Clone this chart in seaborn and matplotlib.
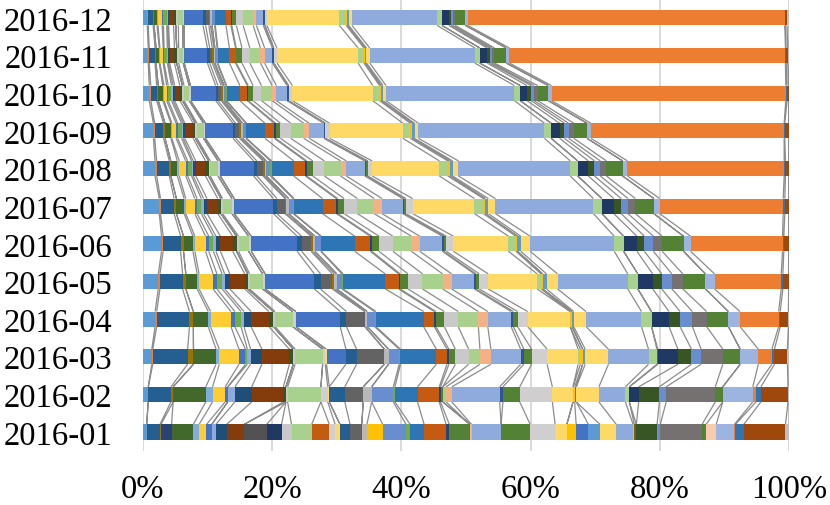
import numpy as np
import pandas as pd
import matplotlib
matplotlib.use("Agg")
import matplotlib.pyplot as plt
import seaborn as sns

# ---------------- data ----------------
months = ["2016-01", "2016-02", "2016-03", "2016-04", "2016-05", "2016-06",
          "2016-07", "2016-08", "2016-09", "2016-10", "2016-11", "2016-12"]

series_colors = [
    "#5B9BD5", "#ED7D31", "#255E91", "#997300", "#264478", "#43682B", "#7CAFDD", "#FFCD33", "#4472C4", "#70AD47",
    "#8FAADC", "#1F4E79", "#843C0C", "#375623", "#525252", "#203864", "#C9C9C9", "#A9D18E", "#C55A11", "#D0CECE",
    "#FFD966", "#4472C4", "#255E91", "#636363", "#997300", "#B7B7B7", "#FFC000", "#698ED0", "#70AD47", "#2E75B6",
    "#C55A11", "#264478", "#548235", "#C9C9C9", "#A9D18E", "#F4B183", "#8FAADC", "#2F5597", "#548235", "#D0CECE",
    "#FFD966", "#A9D18E", "#FFC000", "#4472C4", "#5B9BD5", "#FFD966", "#8FAADC", "#A9D18E", "#7F6000", "#203864",
    "#375623", "#698ED0", "#767171", "#548235", "#F8CBAD", "#9DB4E0", "#ED7D31", "#2E75B6", "#9E480E", "#BFBFBF",
]

v_2016_01 = [0.6, 0, 2.05, 0.15, 1.65, 3.35, 0.9, 1.15, 0.8, 0,
             0.65, 1.65, 2.7, 0, 3.5, 2.3, 1.55, 3.1, 2.75, 0.9,
             0.75, 0, 1.55, 1.8, 0, 0.8, 2.45, 3.6, 0.65, 2.15,
             3.4, 0.5, 3.2, 0, 0, 0.25, 4.55, 0, 4.5, 3.85,
             1.8, 0, 1.45, 1.9, 1.8, 2.5, 2.6, 0.2, 0.3, 0,
             3.2, 0.5, 6.45, 0.6, 1.6, 2.8, 0.15, 1.3, 6.45, 0.6]
v_2016_02 = [0.85, 0, 3.5, 0.35, 0, 5.05, 1.05, 1.95, 0.4, 0,
             1.1, 2.6, 4.9, 0.4, 0, 0, 0.25, 5.15, 0, 1.05,
             0.25, 0, 2.4, 2.85, 0, 1.3, 0, 3.35, 0.25, 3.5,
             3.35, 0.2, 0.35, 0, 0.5, 0.9, 7.4, 0.5, 2.6, 5.05,
             3.2, 0, 0.25, 0.25, 0, 3.5, 4.1, 0.6, 0, 1.45,
             3.2, 1.05, 7.6, 1.15, 0, 4.65, 0.5, 0.75, 4.2, 0.2]
v_2016_03 = [1.4, 0.15, 5.4, 0.9, 0, 3.5, 0.5, 3.05, 1.0, 0.3,
             0.5, 1.75, 4.25, 0.6, 0, 0, 0.3, 4.25, 0, 0.4,
             0.2, 3.0, 1.65, 4.3, 0, 0.65, 0, 1.65, 0.2, 5.55,
             1.65, 0.3, 1.0, 2.05, 1.75, 1.7, 4.6, 0.5, 1.2, 2.4,
             4.8, 0.35, 0.35, 0, 0.4, 3.6, 6.2, 1.3, 0.15, 3.1,
             2.1, 1.5, 3.35, 2.7, 0, 2.8, 2.1, 0.4, 2.0, 0.3]
v_2016_04 = [1.9, 0.25, 5.05, 0.6, 0, 2.3, 0.35, 3.15, 0.6, 0.95,
             0.45, 1.1, 2.75, 0.7, 0, 0, 0.25, 2.7, 0, 0.5,
             0, 6.85, 0.95, 2.85, 0, 0.35, 0, 1.15, 0.2, 7.35,
             1.65, 0.25, 1.3, 2.15, 3.1, 1.45, 3.6, 0.35, 0.65, 1.55,
             6.55, 0, 0.3, 0, 0.25, 1.9, 8.55, 1.55, 0, 2.7,
             1.7, 1.9, 2.2, 3.35, 0, 1.8, 5.95, 0.25, 1.25, 0.15]
v_2016_05 = [2.4, 0.25, 3.5, 0.5, 0, 1.75, 0.3, 2.15, 0.6, 0.8,
             0.4, 0.8, 2.3, 0.45, 0, 0, 0.3, 2.0, 0, 0.4,
             0, 7.6, 0.95, 1.8, 0.35, 0.35, 0, 0.8, 0.2, 6.5,
             2.05, 0.25, 1.2, 2.25, 3.1, 1.4, 3.5, 0.25, 0.5, 1.4,
             7.55, 0.6, 0.25, 0, 0.6, 1.7, 10.85, 1.55, 0, 2.3,
             1.4, 1.55, 1.7, 3.5, 0, 1.4, 10.3, 0.25, 0.9, 0.1]
v_2016_06 = [2.9, 0.25, 2.7, 0.45, 0, 1.45, 0.3, 1.65, 0.5, 0.7,
             0.4, 0.7, 1.9, 0.6, 0, 0, 0.3, 1.55, 0, 0.4,
             0, 7.1, 0.7, 1.45, 0.25, 0.35, 0, 0.9, 0.1, 5.15,
             2.4, 0.25, 1.1, 2.15, 2.85, 1.3, 3.5, 0.2, 0.4, 1.1,
             8.5, 1.15, 0.25, 0, 0.5, 1.45, 13.0, 1.45, 0, 2.05,
             1.15, 1.4, 1.35, 3.3, 0, 1.1, 14.2, 0.2, 0.75, 0.1]
v_2016_07 = [2.55, 0.2, 2.1, 0.35, 0, 1.2, 0.25, 1.4, 0.35, 0.65,
             0.35, 0.55, 1.65, 0.5, 0, 0, 0.25, 1.45, 0, 0.35,
             0, 6.05, 0.55, 1.25, 0.15, 0.4, 0, 0.7, 0.15, 4.4,
             2.15, 0.2, 1.0, 2.05, 2.6, 1.2, 3.2, 0.25, 0.25, 1.05,
             9.55, 1.4, 0.25, 0, 0.5, 1.1, 15.15, 1.3, 0, 1.85,
             1.15, 1.05, 1.15, 2.85, 0, 0.9, 19.1, 0.25, 0.6, 0.1]
v_2016_08 = [1.9, 0.25, 1.95, 0.25, 0, 1.0, 0.3, 1.0, 0.3, 0.6,
             0.25, 0.4, 1.5, 0.5, 0, 0, 0.25, 1.2, 0, 0.35,
             0, 5.15, 0.5, 0.95, 0.25, 0.25, 0, 0.65, 0.2, 3.4,
             1.8, 0.2, 0.95, 1.8, 2.5, 0.9, 2.85, 0.25, 0.25, 0.65,
             10.4, 1.3, 0.35, 0, 0.4, 0.9, 17.3, 1.15, 0, 1.65,
             0.95, 0.9, 0.95, 2.5, 0, 0.75, 24.25, 0.2, 0.5, 0.1]
v_2016_09 = [1.65, 0.2, 1.35, 0.25, 0, 0.9, 0.15, 0.65, 0.25, 0.6,
             0.25, 0.25, 1.3, 0.35, 0, 0, 0.25, 1.0, 0, 0.3,
             0, 4.25, 0.4, 0.6, 0.25, 0.25, 0, 0.5, 0.1, 2.85,
             1.45, 0.2, 0.75, 1.6, 2.0, 0.85, 2.25, 0.25, 0, 0.65,
             11.35, 1.15, 0.3, 0, 0.35, 0.6, 19.5, 1.05, 0, 1.3,
             0.75, 0.65, 0.8, 2.05, 0, 0.6, 29.9, 0.1, 0.6, 0.1]
v_2016_10 = [1.0, 0.25, 0.9, 0.25, 0, 0.7, 0.2, 0.4, 0.25, 0.5,
             0.25, 0.25, 0.8, 0.4, 0, 0, 0.25, 0.8, 0, 0.2,
             0, 3.9, 0.35, 0.5, 0.25, 0.2, 0, 0.3, 0.1, 2.05,
             1.15, 0.15, 0.75, 1.3, 1.65, 0.65, 1.65, 0.25, 0, 0.6,
             12.45, 1.05, 0.25, 0, 0.3, 0.45, 19.9, 0.9, 0, 1.05,
             0.65, 0.45, 0.55, 1.65, 0, 0.5, 36.3, 0.2, 0.25, 0.1]
v_2016_11 = [0.85, 0.15, 0.9, 0.15, 0, 0.5, 0.1, 0.5, 0.15, 0.5,
             0.15, 0.2, 0.75, 0.35, 0, 0, 0.3, 0.7, 0, 0.15,
             0, 3.6, 0.35, 0.4, 0.25, 0.15, 0, 0.35, 0.1, 1.8,
             0.95, 0.1, 0.9, 1.2, 1.65, 0.65, 1.2, 0.2, 0, 0.5,
             12.55, 0.9, 0.2, 0, 0.2, 0.5, 16.25, 0.75, 0, 1.15,
             0.4, 0.35, 0.4, 1.8, 0, 0.5, 42.7, 0.1, 0.25, 0.25]
v_2016_12 = [0.7, 0.15, 0.75, 0.15, 0, 0.45, 0.15, 0.65, 0.2, 0.5,
             0.15, 0.15, 0.75, 0.35, 0, 0, 0.4, 0.7, 0, 0.15,
             0, 2.95, 0.4, 0.5, 0.25, 0.25, 0, 0.4, 0.1, 1.65,
             0.75, 0.15, 0.7, 1.05, 1.55, 0.5, 1.05, 0.25, 0, 0.3,
             11.2, 1.05, 0.2, 0, 0.2, 0.5, 13.15, 0.75, 0, 1.05,
             0.35, 0.25, 0.4, 1.55, 0, 0.35, 49.0, 0.1, 0.25, 0.35]

tick_values = [0, 20, 40, 60, 80, 100]
tick_labels = ["0%", "20%", "40%", "60%", "80%", "100%"]

rows = [v_2016_01, v_2016_02, v_2016_03, v_2016_04, v_2016_05, v_2016_06,
        v_2016_07, v_2016_08, v_2016_09, v_2016_10, v_2016_11, v_2016_12]

# ---------------- derived (100% stacking) ----------------
vals = np.array(rows, dtype=float)
vals = vals / vals.sum(axis=1, keepdims=True) * 100.0
cum = np.cumsum(vals, axis=1)
cum[:, -1] = 100.0
n_series = vals.shape[1]

order = months[::-1]           # 2016-12 at top
df = pd.DataFrame(cum, columns=[f"s{k}" for k in range(n_series)])
df["month"] = months

# ---------------- plot ----------------
sns.set_theme(style="white")
plt.rcParams["font.family"] = ["Liberation Serif", "DejaVu Serif"]

fig = plt.figure(figsize=(8.30, 5.06), dpi=100)
ax = fig.add_axes([0.172, 0.107, 0.779, 0.893])

bar_h = 0.40
for k in range(n_series - 1, -1, -1):
    sns.barplot(data=df, x=f"s{k}", y="month", order=order, color=series_colors[k],
                saturation=1, width=bar_h, linewidth=0, errorbar=None,
                orient="h", ax=ax, zorder=3)

# series lines between adjacent bars
pos = {m: i for i, m in enumerate(order)}
for r in range(len(months) - 1):
    lo = months[r]
    hi = months[r + 1]
    y_lo = pos[lo] - bar_h / 2
    y_hi = pos[hi] + bar_h / 2
    xs, ys = [], []
    for k in range(n_series):
        xs += [cum[r, k], cum[r + 1, k], np.nan]
        ys += [y_lo, y_hi, np.nan]
    ax.plot(xs, ys, color="#8C8C8C", lw=0.9, zorder=2, solid_capstyle="butt")

ax.set_xlim(0, 100)
ax.set_ylim(len(months) - 0.5, -0.5)
ax.set_xticks(tick_values)
ax.set_xticklabels(tick_labels)
ax.set_xlabel("")
ax.set_ylabel("")
ax.xaxis.grid(True, color="#D9D9D9", lw=1.4, zorder=0)
ax.yaxis.grid(False)
ax.set_axisbelow(True)
for s in ax.spines.values():
    s.set_visible(False)
ax.tick_params(axis="both", length=0, labelsize=23.5, colors="black")
ax.tick_params(axis="x", pad=16)
ax.tick_params(axis="y", pad=22)

fig.savefig("out.png", dpi=100)
